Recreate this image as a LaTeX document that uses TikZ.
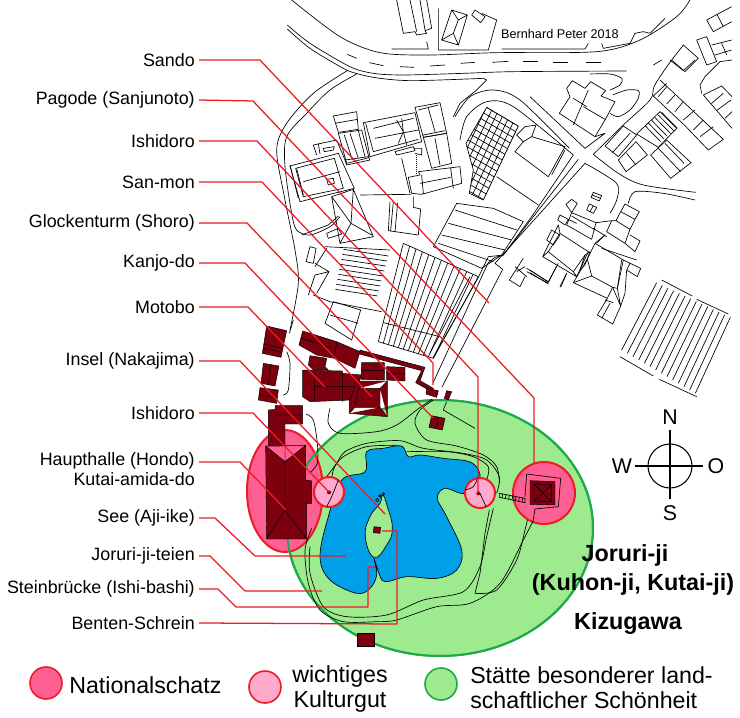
\documentclass[tikz,border=0pt]{standalone}
\usepackage{fontspec}
\setmainfont{Liberation Sans}
\usetikzlibrary{positioning}
\definecolor{leaderred}{RGB}{237, 28, 36}
\definecolor{parkgreen}{RGB}{157, 235, 142}
\definecolor{parkedge}{RGB}{30, 170, 75}
\definecolor{natpink}{RGB}{255, 96, 148}
\definecolor{culpink}{RGB}{255, 170, 204}
\definecolor{pondblue}{RGB}{0, 160, 233}
\definecolor{roofred}{RGB}{125, 0, 15}
\begin{document}
\begin{tikzpicture}[
  x=0.75pt, y=-0.75pt,
  crop/.style args={#1/#2}{shift={(#1,#2)}, x=0.25pt, y=-0.25pt},
  plan/.style={draw=black, line width=0.5pt, line join=round},
  roof/.style={draw=black, fill=roofred, line width=0.35pt, line join=round},
  leader/.style={draw=leaderred, line width=0.95pt, line join=round},
  lbl/.style={font=\fontsize{13.4}{13.4}\selectfont, anchor=east, inner ysep=1pt, inner xsep=3pt},
  lgd/.style={font=\fontsize{17.4}{19}\selectfont, inner sep=0pt},
  ttl/.style={font=\fontsize{17.5}{18}\selectfont\bfseries, inner sep=0pt},
  cmp/.style={font=\fontsize{16}{16}\selectfont, inner sep=0pt},
]
  \useasboundingbox (0,0) rectangle (740,718);
  % site plan
  \begin{scope}[crop=230/0]
    % roads
    \draw[plan] plot[smooth] coordinates {(185,0) (330,110) (450,158) (600,165) (800,158) (1100,155) (1230,120) (1340,50) (1380,0)};
    \draw[plan] plot[smooth] coordinates {(172,75) (240,130) (360,200) (430,220) (520,225) (700,220) (850,215) (1190,213)};
    \draw[plan] plot[smooth] coordinates {(172,87) (240,145) (340,205) (385,222) (450,235) (550,242) (760,235)};
    \draw[plan] (760,235) -- (770,240) -- (740,270) -- (690,310) -- (670,350);
    \foreach \xa/\ya/\xb/\yb in {352/163/380/175, 418/188/460/197, 510/200/552/202, 600/198/645/195, 692/190/735/187, 787/187/835/184, 880/185/925/185, 970/186/1015/186, 1068/186/1112/186}
      \draw[plan] (\xa,\ya) -- (\xb,\yb);
    \draw[plan] plot[smooth] coordinates {(355,210) (250,280) (170,370) (140,450) (165,600) (195,750) (205,850) (180,990)};
    \draw[plan] plot[smooth] coordinates {(380,222) (300,270) (230,340) (170,410) (165,500) (185,640) (200,690) (240,705) (300,680) (330,650)};
    \draw[plan] plot[smooth] coordinates {(675,350) (720,290) (790,270) (870,300) (1018,445)};
    \draw[plan] plot[smooth] coordinates {(690,420) (710,350) (770,305) (850,320) (1030,465)};
    \draw[plan] (1030,465) -- (905,650) -- (820,765) -- (775,770) -- (744,834) -- (609,1074);
    \draw[plan] (1045,478) -- (820,765) -- (795,772) -- (774,789) -- (609,1149);
    \draw[plan] (1065,490) -- (795,790) -- (818,808) -- (636,1161);
    \draw[plan] (720,830) -- (600,1060);
    \draw[plan] plot[smooth] coordinates {(1195,610) (1215,575) (1300,580) (1395,600)};
    \draw[plan] plot[smooth] coordinates {(1065,490) (1160,550) (1160,600) (1140,640)};
    % north of the road
    \draw[plan] (500,0) -- (520,100) -- (555,95) -- (560,105) -- (590,100) -- (585,92) -- (605,85) -- (590,0);
    \draw[plan] (540,0) -- (560,95) (570,0) -- (585,90);
    \draw[plan] (625,25) -- (625,150) -- (775,150) -- (800,60) -- (755,40);
    \draw[plan] (665,30) -- (712,45) -- (685,135) -- (635,120) -- cycle (665,30) -- (685,60) -- (712,45) (685,60) -- (670,100) -- (685,135) (670,100) -- (635,120);
    \draw[plan] (725,45) -- (735,30) -- (765,50) -- (752,68) -- cycle;
    \draw[plan] (485,147) -- (595,147) -- (590,125);
    \draw[plan] (815,147) -- (1065,147) -- (1075,130);
    \draw[plan] (1115,130) -- (1120,145) -- (1200,130) -- (1215,100) -- (1240,95) -- (1260,100) -- (1305,55);
    % fields
    \foreach \i in {0,...,8}
      \draw[plan] ({340-\i*3},{748+\i*15}) -- ({475-\i*4},{768+\i*15});
    \draw[plan] (680,610) -- (790,625) -- (880,665) -- (815,765) -- (755,805) -- (610,740) -- cycle (675,630) -- (860,690) (655,670) -- (845,720) (635,705) -- (825,750) (625,730) -- (790,785);
    \draw[plan] (800,530) -- (925,615);
    \begin{scope}
      \clip (770,322) -- (865,378) -- (760,600) -- (718,580) -- (730,510) -- (708,430) -- cycle;
      \foreach \i in {0,...,13}
        \draw[plan] ({865-8*\i},{378+17*\i}) -- ({865-8*\i-120},{378+17*\i-70});
      \foreach \j in {0,...,6}
        \draw[plan] ({865-16*\j},{378-9.5*\j}) -- ({865-16*\j-115},{378-9.5*\j+245});
    \end{scope}
    \draw[plan] (770,322) -- (865,378) -- (760,600) -- (718,580) -- (730,510) -- (708,430) -- cycle;
    % buildings east of the lane
    \draw[plan] (885,380) -- (918,375) -- (905,410) -- (1005,440) -- (955,530) -- (855,455) -- (880,425) -- (860,405) -- cycle (1005,450) -- (965,525) (880,425) -- (905,410);
    % wall and stair behind the gate
    \draw[plan] (880,775) -- (838,840) -- (870,860) -- (885,830) (855,800) -- (890,830) (860,815) -- (885,800);
    \draw[plan] (890,805) -- (955,845) -- (985,790) (890,815) -- (955,850);
    \draw[plan] (990,860) -- (1010,820);
    \draw[plan] (310,905) -- (392,930) -- (365,1020) -- (285,970) -- cycle (300,945) -- (385,970);
    \draw[plan] (228,785) -- (240,740) -- (258,745) -- (250,790) -- cycle;
    \draw[plan] (235,885) -- (255,825) -- (297,815) -- (260,880) (255,790) -- (297,815);
    \draw[plan] (285,740) -- (480,750) (250,885) -- (300,905) -- (455,935) (290,745) -- (255,800);
  \end{scope}
  % temple buildings
  \begin{scope}[crop=275/100]
    \draw[plan] (45,198) -- (190,160) -- (238,265) -- (75,305) -- cycle (62,205) -- (178,175) -- (205,265) -- (85,290) -- cycle (85,245) -- (195,215);
    \draw[plan] (155,238) -- (175,235) -- (178,250) -- (160,255) -- cycle (45,195) -- (70,295) (65,205) -- (85,285);
    \draw[plan] (115,135) -- (185,120) -- (210,180) (115,135) -- (125,165) (130,130) -- (135,162) (145,145) -- (178,140) -- (175,150) -- (148,155) -- cycle;
    \draw[plan] (175,48) -- (245,35) -- (250,88) -- (190,97) -- cycle (180,70) -- (248,58);
    \draw[plan] (190,100) -- (260,90) -- (282,173) -- (215,190) -- cycle (208,105) -- (232,180) (225,100) -- (250,175) (250,92) -- (270,170);
    \draw[plan] (210,180) -- (280,170) -- (285,180) -- (215,195) -- cycle;
    \draw[plan] (265,68) -- (420,38) -- (440,125) -- (285,170) -- cycle (272,70) -- (295,155) -- (430,118) (295,85) -- (415,55) (300,115) -- (430,90);
    \draw[plan] (365,60) -- (385,95) -- (370,130) (380,55) -- (385,95) -- (395,135);
    \draw[plan] (420,22) -- (495,8) -- (515,100) -- (445,112) -- cycle (430,30) -- (490,15) (460,25) -- (480,95) (445,105) -- (510,92);
    \draw[plan] (445,112) -- (515,100) -- (530,190) -- (470,205) -- cycle (480,115) -- (495,195);
    \draw[plan] (400,232) -- (435,225) -- (430,215) -- (555,200) -- (560,250) -- (440,283) -- (410,280) -- cycle (440,225) -- (445,280) (435,250) -- (527,232) (527,205) -- (535,265);
    \draw[plan] (360,155) -- (415,140) -- (420,152) -- (365,165) -- cycle (415,145) -- (440,145) -- (440,165) -- (420,160);
    \draw[plan, densely dotted] (425,165) -- (425,225);
    \draw[plan] (380,175) -- (405,280) (255,285) -- (408,283);
    \draw[plan] (415,290) -- (415,322) -- (437,327) -- (430,405) -- (340,392) -- (345,305) (355,305) -- (347,392) (368,308) -- (360,395);
    \draw[plan] (170,290) -- (235,268) -- (295,410) -- (195,430) -- cycle (170,290) -- (228,370) -- (235,268) (195,430) -- (228,370) -- (290,405);
    \draw[plan] (155,400) -- (160,415) -- (200,402) -- (190,385) -- cycle (80,405) -- (160,375) -- (190,348);
  \end{scope}
  % field rows in front of the gate
  \begin{scope}[crop=370/230]
    \foreach \i in {0,...,11}
      \draw[plan] ({100+19*\i},{40+8.5*\i}) -- ({25+15*\i},{335+4.5*\i});
    \draw[plan] (100,40) -- (325,140) (25,335) -- (190,385) (40,278) -- (210,320);
    \draw[plan] (325,140) -- (190,385);
  \end{scope}
  % east quarter, upper part
  \begin{scope}[crop=530/60]
    \draw[plan] (110,85) -- (127,62) -- (165,85) -- (182,65) -- (227,92) -- (213,108) -- (255,125) -- (225,180) -- (195,230) -- (88,160) -- (120,110) -- cycle;
    \draw[plan] (175,90) -- (130,195) (160,140) -- (225,178) (130,115) -- (170,140);
    \draw[plan] (0,110) -- (165,265) -- (225,220) -- (195,230);
    \draw[plan] plot[smooth] coordinates {(190,283) (280,195) (360,120) (372,80) (400,35) (425,0)};
    \draw[plan] (370,15) -- (395,0) (420,0) -- (460,32) -- (495,0);
    \draw[plan] plot[smooth] coordinates {(190,283) (265,340) (340,375) (497,397)};
    \draw[plan] plot[smooth] coordinates {(248,105) (290,90) (325,92) (325,115) (300,150) (265,170) (240,160)};
    \draw[plan] plot[smooth] coordinates {(180,42) (240,42) (275,55) (270,75) (240,90)};
    % roof grid
    \draw[plan] (390,60) -- (580,238) -- (535,270) -- (465,197) (370,108) -- (410,70);
    \foreach \xa/\ya/\xb/\yb in {385/110/410/80, 410/132/435/105, 435/155/460/125, 460/180/495/150, 490/210/520/180, 510/230/550/200}
      \draw[plan] (\xa,\ya) -- (\xb,\yb);
    \draw[plan] (370,108) -- (465,197);
    % steps
    \draw[plan] (390,155) -- (440,205) -- (385,262) -- (320,222) -- cycle;
    \foreach \i in {0,...,5}
      \draw[plan] ({345+\i*10},{197-\i*8}) -- ({392+\i*10},{245-\i*8});
    \draw[plan] (225,258) -- (280,198) -- (320,225) -- (265,290) -- cycle (247,278) -- (300,220);
    \draw[plan] (265,300) -- (318,245) -- (352,285) -- (288,335) -- cycle (290,280) -- (318,315);
    \draw[plan] (362,285) -- (410,240) -- (483,308) -- (422,355) -- cycle (385,265) -- (452,335) (405,250) -- (462,310);
    % corner north east
    \draw[plan] (515,100) -- (510,75) -- (525,50) -- (570,5) -- (606,0);
    \draw[plan] (520,105) -- (575,78) -- (606,110) (520,105) -- (606,205) (545,130) -- (580,100) (562,150) -- (603,120) (585,175) -- (606,155);
  \end{scope}
  \begin{scope}[crop=230/0]
    \draw[plan] (1325,180) -- (1360,135) -- (1405,175) -- (1365,215) -- cycle;
    \draw[plan] (1400,120) -- (1430,110) -- (1460,185) -- (1430,195) -- cycle (1445,135) -- (1505,120) (1455,165) -- (1505,150) (1475,130) -- (1490,165);
    \draw[plan] (1430,60) -- (1505,20) (1450,95) -- (1505,65) (1430,60) -- (1450,95) (1462,45) -- (1480,80);
  \end{scope}
  % east quarter, lower part
  \begin{scope}[crop=530/180]
    \draw[plan] (190,37) -- (215,47) -- (208,63) -- (183,52) -- cycle (186,45) -- (212,55);
    \draw[plan] (178,72) -- (200,82) -- (190,100) -- (170,90) -- cycle (190,77) -- (180,95);
    \draw[plan] (285,72) -- (328,95) -- (315,118) -- (272,95) -- cycle (272,95) -- (258,122) -- (300,148) -- (315,118);
    \draw[plan] (258,122) -- (245,122) -- (230,155) -- (285,190) -- (300,148);
    \draw[plan] (300,165) -- (330,183) -- (315,215) -- (285,190);
    \draw[plan] (108,73) -- (125,58) -- (142,70) -- (125,98) -- cycle;
    \draw[plan] (125,98) -- (198,128) -- (185,178) -- (110,135) -- cycle (125,108) -- (195,150);
    \draw[plan] (198,128) -- (245,122) (190,145) -- (230,170) (225,165) -- (200,190);
    \draw[plan] (90,105) -- (115,118) -- (105,135) -- (83,120) -- cycle (115,118) -- (140,130);
    \draw[plan] (85,135) -- (38,230) -- (140,290) -- (175,215) -- (90,160) -- cycle (55,215) -- (90,160) (38,230) -- (55,215) -- (130,275) -- (140,290) (130,275) -- (165,225);
    \draw[plan] (50,180) -- (65,150) -- (90,165) -- (70,195) -- cycle;
    \draw[plan] (150,270) -- (165,225) -- (180,215) -- (165,255) -- cycle;
    \draw[plan] (130,308) -- (172,237) -- (195,190) -- (280,240) -- (262,325) -- (248,322) -- (232,355) -- cycle;
    \draw[plan] (130,308) -- (185,288) -- (172,237) (185,288) -- (248,322) (275,240) -- (262,325) (262,325) -- (272,378) -- (248,432) -- (202,405) -- (232,355) (248,322) -- (272,378) (225,360) -- (250,368) (215,415) -- (240,370);
    \draw[plan] (195,190) -- (225,165) (280,240) -- (332,265) -- (322,290) -- (290,270) -- (285,340) -- (272,378) (300,250) -- (290,270) (215,205) -- (320,240);
    \draw[plan] (0,270) -- (55,307) -- (80,258) (0,278) -- (55,312) (110,280) -- (92,322);
  \end{scope}
  % field south east
  \begin{scope}[crop=570/270]
    \foreach \i in {0,...,13}
      \draw[plan] ({260+17*\i},{38+8*\i}) -- ({155+17*\i},{240+10*\i});
    \draw[plan] (275,30) -- (367,78) (380,88) -- (475,132) (150,260) -- (250,318) (268,328) -- (380,380);
  \end{scope}
  % protected areas
  \draw[draw=parkedge, line width=1.5pt, fill=parkgreen] (440,528) ellipse [x radius=153, y radius=128];
  \draw[draw=leaderred, line width=1.5pt, fill=natpink] (285,491) ellipse [x radius=38, y radius=61];
  \draw[draw=parkedge, line width=1.5pt] (440,528) ellipse [x radius=153, y radius=128];
  \draw[draw=leaderred, line width=1.5pt, fill=natpink] (544,493) circle [radius=31];
  \begin{scope}[crop=230/320]
    % pond
    \draw[plan, fill=pondblue] plot[smooth cycle, tension=0.6] coordinates {(410,395) (460,385) (515,378) (535,410) (570,405) (640,415) (725,428) (750,475) (705,520) (645,505) (622,535) (650,590) (695,690) (680,750) (620,775) (530,770) (465,785) (445,755) (432,715) (440,765) (420,805) (380,820) (300,780) (270,710) (295,590) (335,480) (405,455)};
    % island
    \draw[plan, fill=parkgreen] plot[smooth cycle, tension=0.8] coordinates {(458,525) (472,560) (487,625) (470,675) (432,712) (406,650) (420,590) (450,550)};
    \draw[plan] (442,540) circle [radius=5] (460,522) circle [radius=4] (450,528) circle [radius=4];
    % paths
    \draw[plan] plot[smooth] coordinates {(245,625) (225,690) (235,790) (270,870) (340,905) (440,905) (500,900) (620,860) (720,850) (810,790) (880,660) (908,605)};
    \draw[plan] plot[smooth] coordinates {(240,680) (240,760) (280,860) (350,890) (470,885) (580,840) (700,815) (750,740) (770,650) (790,565)};
    \draw[plan] plot[smooth] coordinates {(735,820) (800,810) (860,720) (885,630) (892,600)};
    \draw[plan] (735,820) -- (750,760) -- (765,640) -- (778,570);
    \draw[plan] plot[smooth] coordinates {(290,470) (320,430) (345,395) (410,370) (510,362) (580,385) (700,400) (770,420) (808,470) (800,520)};
    \draw[plan] plot[smooth] coordinates {(300,530) (310,450) (340,410) (410,380) (500,376)};
    \draw[plan] plot[smooth] coordinates {(530,395) (650,395) (730,410) (775,440) (770,480)};
    \draw[plan] plot[smooth] coordinates {(300,265) (295,310) (330,340) (440,335) (500,315) (560,270) (605,238)};
    \draw[plan] plot[smooth] coordinates {(610,240) (570,270) (555,310) (590,360) (680,378) (760,405) (800,440) (808,490)};
    \draw[plan] (650,245) -- (640,270) -- (735,325);
    \draw[plan] plot[smooth] coordinates {(228,282) (250,300) (262,370) (262,430) (240,458)};
    \draw[plan] plot[smooth] coordinates {(170,95) (180,130) (175,210) (160,225)};
    \draw[plan] (190,0) -- (178,40);
    % bridge
    \draw[plan] (808,520) -- (885,535) -- (885,548) -- (808,532) -- cycle;
    \foreach \i in {0,...,6}
      \draw[plan] ({818+\i*10},{521+\i*2}) -- ({816+\i*10},{534+\i*2});
    \draw[roof] (382,940) -- (432,940) -- (432,980) -- (382,980) -- cycle;
    \draw[roof] (432,620) -- (452,622) -- (450,640) -- (430,638) -- cycle;
    % main hall
    \draw[roof] (107,378) -- (227,376) -- (227,480) -- (245,483) -- (245,550) -- (230,550) -- (230,657) -- (110,657) -- cycle (165,378) -- (165,570) (110,657) -- (165,570) -- (230,657) (107,378) -- (165,425) -- (227,376);
  \end{scope}
  % roofs north of the pond
  \begin{scope}[crop=255/320]
    \draw[roof] (35,18) -- (95,32) -- (78,112) -- (22,100) -- cycle (27,72) -- (82,85) (25,85) -- (80,97);
    \draw[roof] (25,130) -- (72,138) -- (60,198) -- (18,190) -- cycle (47,133) -- (40,195);
    \draw[roof] (15,203) -- (70,210) -- (65,250) -- (10,240) -- cycle (15,225) -- (65,235);
    \draw[roof] (40,270) -- (60,268) -- (60,257) -- (143,257) -- (143,312) -- (90,312) -- (90,378) -- (40,378) -- cycle (60,285) -- (143,285);
    \draw[roof] (315,90) -- (510,142) -- (495,182) -- (535,205) -- (530,215) -- (482,188) -- (500,152) -- (313,102) -- cycle;
    \draw[roof] (165,107) -- (215,115) -- (210,140) -- (220,150) -- (175,150) -- (160,135) -- cycle (165,132) -- (212,132);
    \draw[roof] (132,75) -- (143,33) -- (245,65) -- (315,95) -- (300,145) -- (238,115) -- (185,105) -- cycle (140,55) -- (235,85) (245,65) -- (238,115);
    \draw[roof] (143,150) -- (262,153) -- (262,160) -- (320,165) -- (305,205) -- (290,240) -- (165,245) -- (143,230) -- cycle (180,155) -- (178,245) (178,200) -- (305,200) (262,153) -- (262,245);
    \draw[roof] (300,183) -- (397,183) -- (397,290) -- (283,280) -- (283,240) -- (300,205) -- cycle (310,205) -- (375,205) -- (397,183) (375,205) -- (375,262) -- (397,290) (375,262) -- (300,262) -- (283,280) (310,205) -- (300,262);
    \draw[roof] (320,128) -- (388,128) -- (388,180) -- (318,178) -- cycle (320,152) -- (388,152);
    \draw[roof] (395,140) -- (450,142) -- (450,183) -- (395,180) -- cycle (395,160) -- (450,162);
    \draw[roof] (515,205) -- (550,212) -- (545,232) -- (513,222) -- cycle;
    \draw[roof] (575,212) -- (590,215) -- (580,240) -- (568,235) -- cycle;
    \draw[roof] (530,287) -- (570,295) -- (562,330) -- (522,322) -- cycle (550,291) -- (542,326);
  \end{scope}
  % lanterns
  \draw[draw=leaderred, line width=1.5pt, fill=culpink] (329,492) circle [radius=15];
  \draw[draw=leaderred, line width=1.5pt, fill=culpink] (480,493) circle [radius=15];
  \begin{scope}[crop=230/320]
    \draw[plan] plot[smooth] coordinates {(290,560) (305,530) (325,480)};
    \draw[plan] plot[smooth] coordinates {(705,510) (730,500) (745,470)};
    \draw[plan] (750,520) -- (768,560);
    \fill[roofred] (297,517) circle [radius=6] (745,520) circle [radius=6];
    % pagoda precinct
    \draw[plan] (908,610) -- (915,567) -- (985,560) -- (992,475) -- (890,462) -- (885,530);
    \draw[roof] (900,482) -- (975,485) -- (975,555) -- (900,553) -- cycle (912,492) -- (965,494) -- (965,545) -- (912,543) -- cycle (912,492) -- (965,545) (965,494) -- (912,543);
  \end{scope}
  % leader ends
  \coordinate (endSando) at (489,303);
  \coordinate (endPagode) at (534,463);
  \coordinate (endStoneA) at (478,493);
  \coordinate (endGate) at (433,385);
  \coordinate (endBell) at (433,418);
  \coordinate (endKanjo) at (372,397);
  \coordinate (endMotobo) at (325,387);
  \coordinate (endInsel) at (385,514);
  \coordinate (endStoneB) at (329,492);
  \coordinate (endHall) at (286,510);
  \coordinate (endSee) at (346,556);
  \coordinate (endTeien) at (322,591);
  \coordinate (endBridge) at (375,567);
  \coordinate (endBenten) at (382,531);
  % labels
  \node[lbl] (sando) at (199,60) {Sando};
  \node[lbl] (pagode) at (199,100) {Pagode (Sanjunoto)};
  \node[lbl] (stoneA) at (199,141) {Ishidoro};
  \node[lbl] (gate) at (199,182) {San-mon};
  \node[lbl] (bell) at (199,223) {Glockenturm (Shoro)};
  \node[lbl] (kanjo) at (199,263) {Kanjo-do};
  \node[lbl] (motobo) at (199,307) {Motobo};
  \node[lbl] (insel) at (199,361) {Insel (Nakajima)};
  \node[lbl] (stoneB) at (199,413) {Ishidoro};
  \node[lbl, align=right] (hall) at (199,469) {Haupthalle (Hondo)\\[2pt]Kutai-amida-do};
  \node[lbl] (see) at (199,518) {See (Aji-ike)};
  \node[lbl] (teien) at (199,556) {Joruri-ji-teien};
  \node[lbl] (bridge) at (199,589) {Steinbrücke (Ishi-bashi)};
  \node[lbl] (benten) at (199,623) {Benten-Schrein};
  % leaders
  \draw[leader] (sando.east) -- (260,60) -- (endSando);
  \draw[leader] (pagode.east) -- (253,101) -- (534,398) -- (endPagode);
  \draw[leader] (stoneA.east) -- (257,141) -- (478,377) -- (endStoneA);
  \draw[leader] (gate.east) -- (262,182) -- (433,363) -- (endGate);
  \draw[leader] (bell.east) -- (247,223) -- (433,418) -- (endBell);
  \draw[leader] (kanjo.east) -- (245,263) -- (endKanjo);
  \draw[leader] (motobo.east) -- (248,307) -- (endMotobo);
  \draw[leader] (insel.east) -- (240,361) -- (endInsel);
  \draw[leader] (stoneB.east) -- (253,413) -- (endStoneB);
  \draw[leader] (hall.east |- 0,462) -- (240,462) -- (endHall);
  \draw[leader] (see.east) -- (215,518) -- (255,556) -- (endSee);
  \draw[leader] (teien.east) -- (210,556) -- (245,591) -- (endTeien);
  \draw[leader] (bridge.east) -- (218,589) -- (236,607) -- (368,607) -- (368,567) -- (endBridge);
  \draw[leader] (benten.east) -- (397,624) -- (397,531) -- (endBenten);
  % titles
  \node[ttl] (title) at (625,555) {Joruri-ji};
  \node[ttl] (subtitle) at (633,584) {(Kuhon-ji, Kutai-ji)};
  \node[ttl] (place) at (628,624) {Kizugawa};
  \node[font=\fontsize{9.5}{9.5}\selectfont, inner sep=0pt] (credit) at (560,34) {Bernhard Peter 2018};
  % compass
  \coordinate (cmpC) at (670,466);
  \node[cmp] (north) at (670,417) {N};
  \node[cmp] (south) at (670,513) {S};
  \node[cmp] (west) at (622,466) {W};
  \node[cmp] (east) at (716,466) {O};
  \draw[line width=0.8pt] (cmpC) circle [radius=22];
  \draw[line width=0.8pt] (670,430) -- (670,499) (635,466) -- (703,466);
  % legend
  \draw[draw=leaderred, line width=1.2pt, fill=natpink] (46,683) circle [radius=16];
  \draw[draw=leaderred, line width=1.2pt, fill=culpink] (265,687) circle [radius=16];
  \draw[draw=parkedge, line width=1.2pt, fill=parkgreen] (441,684) circle [radius=16];
  \node[lgd, anchor=west] (lgdNat) at (69,685) {Nationalschatz};
  \node[lgd, align=center] (lgdCul) at (340,689) {wichtiges\\Kulturgut};
  \node[lgd, align=left, anchor=west] (lgdPark) at (470,688) {Stätte besonderer land-\\schaftlicher Schönheit};
\end{tikzpicture}
\end{document}
